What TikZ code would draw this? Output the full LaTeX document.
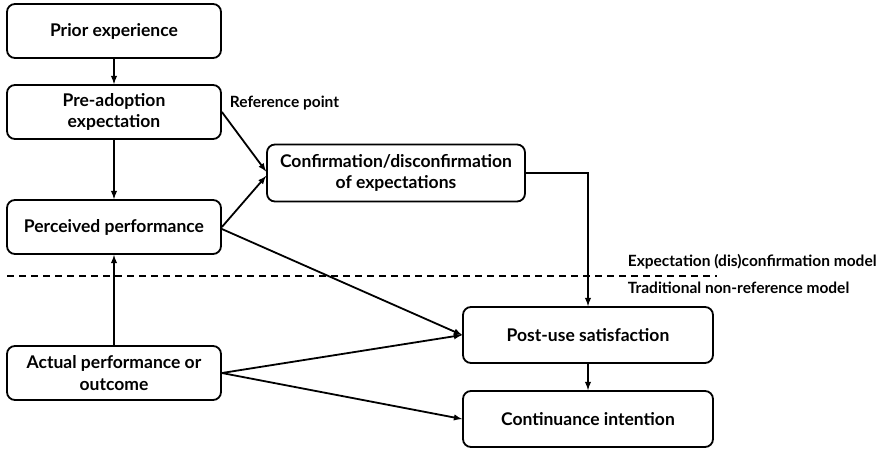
\documentclass[tikz,border=0pt]{standalone}
\usepackage{fontspec}
\setmainfont{Lato}
\usepackage{tikz}
\usetikzlibrary{shapes,arrows,positioning,calc}

\begin{document}
\begin{tikzpicture}[x=1pt, y=-1pt, line width=1.8pt, >=latex,
    box/.style={rectangle, draw, fill=white, rounded corners=8pt, align=center, font=\fontsize{17.5}{21.5}\selectfont\bfseries, inner sep=0pt},
    lbl/.style={font=\fontsize{15.5}{18}\selectfont\bfseries, anchor=west, inner sep=0pt}]

    \useasboundingbox (0,0) rectangle (884,451);

    % Left column
    \node[box, minimum width=214pt, minimum height=54pt] (prior) at (114,31) {Prior experience};
    \node[box, minimum width=214pt, minimum height=54pt] (pre) at (114,112) {Pre-adoption\\expectation};
    \node[box, minimum width=214pt, minimum height=54pt] (perc) at (114,227) {Perceived performance};
    \node[box, minimum width=214pt, minimum height=54pt] (actual) at (114,373) {Actual performance or\\outcome};

    % Confirmation
    \node[box, minimum width=258pt, minimum height=57pt] (conf) at (396,173) {Confirmation/disconfirmation\\of expectations};

    % Right column
    \node[box, minimum width=250pt, minimum height=56pt] (post) at (588,335) {Post-use satisfaction};
    \node[box, minimum width=250pt, minimum height=56pt] (cont) at (588,419) {Continuance intention};

    % Arrows
    \draw[->] (prior) -- (pre);
    \draw[->] (pre) -- (perc);
    \draw[->] (actual) -- (perc);
    \draw[->] (pre.east) -- ([yshift=1.5pt]conf.west);
    \draw[->] (perc.east) -- ([yshift=-3pt]conf.west);
    \draw[->] ([yshift=-2pt]perc.east) -- (post.west);
    \draw[->] (actual.east) -- (post.west);
    \draw[->] (actual.east) -- (cont.west);
    \draw[->] (conf.east) -| (post.north);
    \draw[->] (post) -- (cont);

    % Model divider
    \coordinate (dl) at (7,276);
    \coordinate (dr) at (717,276);
    \draw[dashed, line width=1.4pt, dash pattern=on 7pt off 5pt] (dl) -- (dr);

    % Labels
    \node[lbl] (refpt) at (229,103) {Reference point};
    \node[lbl] (edm) at (627,262) {Expectation (dis)confirmation model};
    \node[lbl] (trad) at (627,288) {Traditional non-reference model};
\end{tikzpicture}
\end{document}
